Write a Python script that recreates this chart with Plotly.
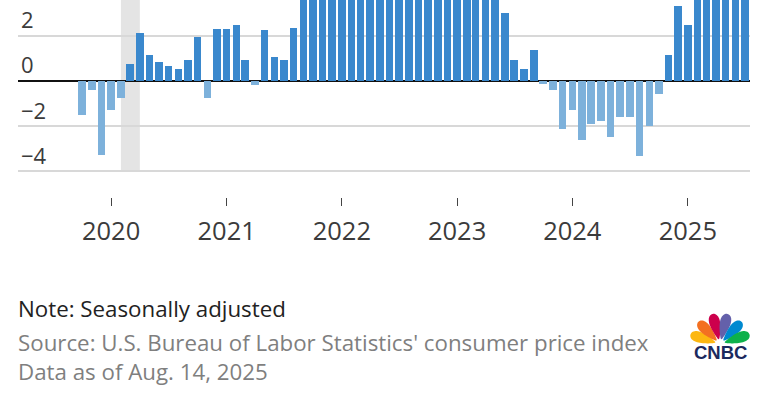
import math
import plotly.graph_objects as go

# ---------------- data ----------------
months = [
    "2019-10-01", "2019-11-01", "2019-12-01",
    "2020-01-01", "2020-02-01", "2020-03-01", "2020-04-01", "2020-05-01", "2020-06-01",
    "2020-07-01", "2020-08-01", "2020-09-01", "2020-10-01", "2020-11-01", "2020-12-01",
    "2021-01-01", "2021-02-01", "2021-03-01", "2021-04-01", "2021-05-01", "2021-06-01",
    "2021-07-01", "2021-08-01", "2021-09-01", "2021-10-01", "2021-11-01", "2021-12-01",
    "2022-01-01", "2022-02-01", "2022-03-01", "2022-04-01", "2022-05-01", "2022-06-01",
    "2022-07-01", "2022-08-01", "2022-09-01", "2022-10-01", "2022-11-01", "2022-12-01",
    "2023-01-01", "2023-02-01", "2023-03-01", "2023-04-01", "2023-05-01", "2023-06-01",
    "2023-07-01", "2023-08-01", "2023-09-01", "2023-10-01", "2023-11-01", "2023-12-01",
    "2024-01-01", "2024-02-01", "2024-03-01", "2024-04-01", "2024-05-01", "2024-06-01",
    "2024-07-01", "2024-08-01", "2024-09-01", "2024-10-01", "2024-11-01", "2024-12-01",
    "2025-01-01", "2025-02-01", "2025-03-01", "2025-04-01", "2025-05-01", "2025-06-01",
    "2025-07-01",
]
pct_change = [
    -1.51, -0.40, -3.29,
    -1.29, -0.73, 0.76, 2.15, 1.17, 0.87,
    0.67, 0.55, 0.96, 1.94, -0.73, 2.33,
    2.33, 2.47, 0.96, -0.19, 2.27, 1.05,
    0.96, 2.34, 4.2, 5.1, 5.8, 6.4,
    7.0, 7.9, 8.8, 9.5, 10.3, 11.2,
    11.9, 12.4, 12.8, 12.1, 11.3, 10.5,
    9.6, 8.4, 7.1, 5.6, 4.5, 3.04,
    0.96, 0.55, 1.36, -0.13, -0.40, -2.12,
    -1.30, -2.61, -1.91, -1.79, -2.49, -1.60,
    -1.60, -3.30, -2.01, -0.55, 1.16, 3.32,
    2.47, 4.4, 5.0, 5.7, 6.4, 7.0,
    7.8,
]
year_ticks = ["2020-01-01", "2021-01-01", "2022-01-01", "2023-01-01", "2024-01-01", "2025-01-01"]
year_labels = ["2020", "2021", "2022", "2023", "2024", "2025"]
y_ticks = [-4, -2, 0, 2]
recession = ("2020-02-01", "2020-04-01")

note_text = "Note: Seasonally adjusted"
source_text = "Source: U.S. Bureau of Labor Statistics' consumer price index"
date_text = "Data as of Aug. 14, 2025"

# ---------------- styling ----------------
W, H = 768, 402
POS = "#3a88cd"
NEG = "#7db1db"
FONT = "Open Sans"

def px(x):
    return x / W

def py(y):
    return 1 - y / H

colors = [POS if v >= 0 else NEG for v in pct_change]
DAY_MS = 86400000

fig = go.Figure()
fig.add_trace(go.Bar(
    x=months, y=pct_change, marker=dict(color=colors, line=dict(width=0)),
    width=24 * DAY_MS, hoverinfo="skip",
))

# recession band (from the lowest gridline to the top)
fig.add_shape(type="rect", xref="x", yref="y", x0=recession[0], x1=recession[1],
              y0=y_ticks[0], y1=50, fillcolor="#e4e4e4", line=dict(width=0), layer="below")

fig.update_layout(
    width=W, height=H, margin=dict(l=0, r=0, t=0, b=0),
    paper_bgcolor="white", plot_bgcolor="white", showlegend=False,
    bargap=0,
    xaxis=dict(
        type="date", domain=[px(18), px(750)], range=["2019-03-12", "2025-07-17"],
        tickmode="array", tickvals=year_ticks, ticktext=year_labels,
        ticks="outside", ticklen=8, tickwidth=1.3, tickcolor="#444",
        ticklabelstandoff=3,
        showgrid=False, zeroline=False, showline=False,
        tickfont=dict(family=FONT, size=25.5, color="#3b3b3b"),
        automargin=False, fixedrange=True,
    ),
    yaxis=dict(
        domain=[py(197), 1], range=[-5.14, 3.6],
        tickmode="array", tickvals=y_ticks,
        ticklabelposition="inside top",
        showgrid=True, gridcolor="#d8d8d8", gridwidth=1.5,
        zeroline=True, zerolinecolor="#111", zerolinewidth=2,
        showline=False, ticks="",
        tickfont=dict(family=FONT, size=22, color="#3b3b3b"),
        automargin=False, fixedrange=True,
    ),
)

# footer texts
FOOT = 22.3
fig.add_annotation(text=note_text, xref="paper", yref="paper", x=px(16), y=py(308.5),
                   xanchor="left", yanchor="middle", showarrow=False,
                   font=dict(family=FONT, size=FOOT, color="#222"))
fig.add_annotation(text=source_text, xref="paper", yref="paper", x=px(16), y=py(342),
                   xanchor="left", yanchor="middle", showarrow=False,
                   font=dict(family=FONT, size=FOOT, color="#7f7f7f"))
fig.add_annotation(text=date_text, xref="paper", yref="paper", x=px(16), y=py(371),
                   xanchor="left", yanchor="middle", showarrow=False,
                   font=dict(family=FONT, size=FOOT, color="#7f7f7f"))

# CNBC peacock logo (drawn in pixel units, converted to paper)
bx, by = 720.0, 344.0
feathers = [(-72, "#fcb711"), (-44, "#f37021"), (-14, "#cc004c"),
            (14, "#6460aa"), (44, "#0089d0"), (72, "#0db14b")]
for ang, col in feathers:
    a = math.radians(ang)
    ux, uy = math.sin(a), -math.cos(a)
    vx, vy = -uy, ux
    pts = []
    n = 28
    for k in range(n + 1):
        t = math.pi * k / n - math.pi / 2
        s = (math.sin(t) + 1) / 2
        along = 5 + 26 * s
        half = 7.5 * math.cos(t) * (0.3 + 0.7 * s)
        pts.append((along, half))
    poly = pts + [(a_, -h_) for a_, h_ in reversed(pts)]
    path = "M " + " L ".join(
        f"{px(bx + ux*al + vx*hw):.5f},{py(by + uy*al + vy*hw):.5f}" for al, hw in poly) + " Z"
    fig.add_shape(type="path", path=path, xref="paper", yref="paper",
                  fillcolor=col, line=dict(width=0))

fig.add_annotation(text="<b>CNBC</b>", xref="paper", yref="paper", x=px(720), y=py(352.5),
                   xanchor="center", yanchor="middle", showarrow=False,
                   font=dict(family="Liberation Sans", size=18.5, color="#1b2a5e"))

fig.write_html("out.html")
